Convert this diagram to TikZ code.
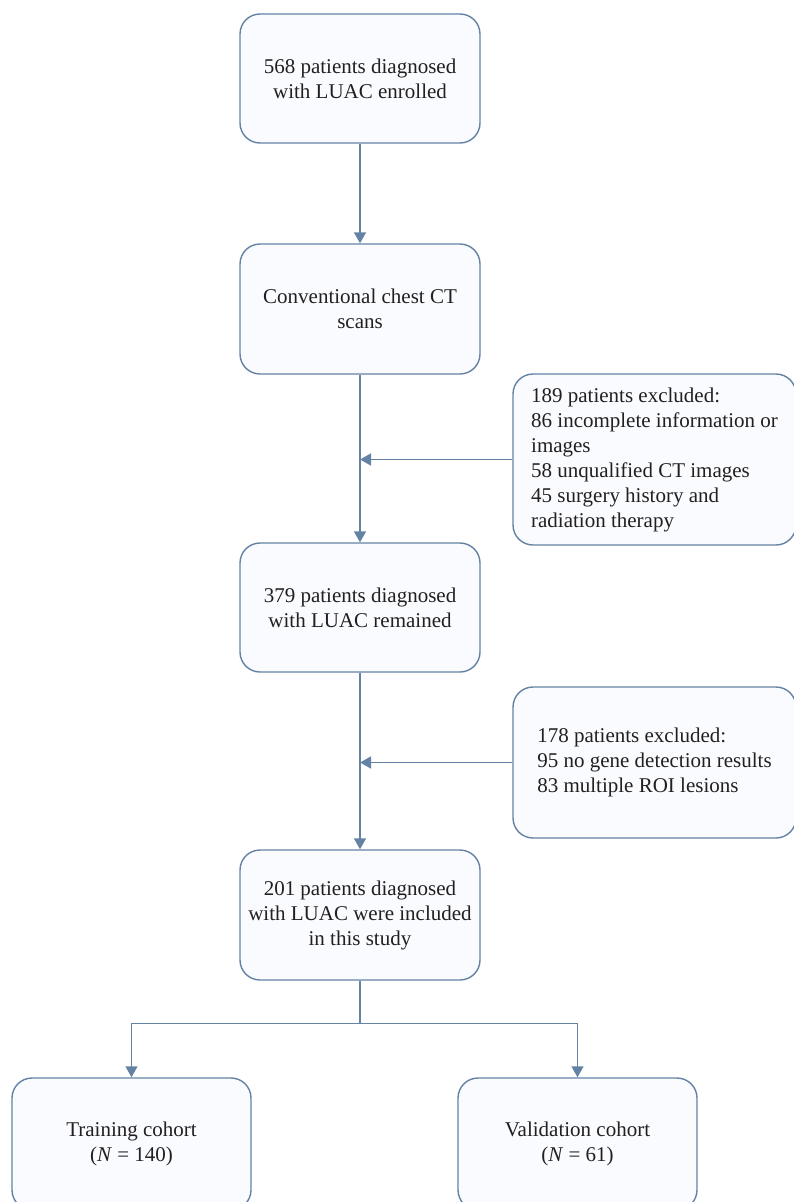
\documentclass[tikz,border=0pt]{standalone}
\usepackage{fontspec}
\setmainfont{Liberation Serif}
\usepackage{tikz}
\usetikzlibrary{arrows.meta, calc, positioning}
\definecolor{flowline}{RGB}{100,130,164}
\definecolor{flowfill}{RGB}{249,251,254}
\definecolor{flowtext}{RGB}{35,31,32}

\begin{document}
\begin{tikzpicture}[
  x=1pt, y=1pt,
  stage/.style={rectangle, rounded corners=20pt, draw=flowline, fill=flowfill, line width=1.4pt, minimum width=240pt, minimum height=129pt, align=center, text=flowtext, font=\fontsize{21}{25}\selectfont},
  exclude/.style={rectangle, rounded corners=20pt, draw=flowline, fill=flowfill, line width=1.4pt, minimum width=283pt, align=left, text=flowtext, font=\fontsize{21}{25}\selectfont},
  cohort/.style={stage, minimum width=239pt, minimum height=132pt},
  arrow/.style={-{Triangle[length=11pt, width=12pt]}, draw=flowline, line width=1.4pt},
  link/.style={draw=flowline, line width=1.4pt}
]
\useasboundingbox (0,0) rectangle (794,-1202);

% --- Hauptpfad ---
\node[stage] (enrolled) at (360,-78.5) {568 patients diagnosed\\with LUAC enrolled};
\node[stage, minimum height=130pt] (ctscan) at (360,-309) {Conventional chest CT\\scans};
\node[stage] (remained) at (360,-607.5) {379 patients diagnosed\\with LUAC remained};
\node[stage, minimum height=130pt] (included) at (360,-915) {201 patients diagnosed\\with LUAC were included\\in this study};

% --- Ausschluesse rechts ---
\node[exclude, minimum height=171pt] (exclA) at (654.5,-459.5) {189 patients excluded:\\86 incomplete information or\\images\\58 unqualified CT images\\45 surgery history and\\radiation therapy};
\node[exclude, minimum height=151pt] (exclB) at (654.5,-762.5) {178 patients excluded:\\95 no gene detection results\\83 multiple ROI lesions};

% --- Kohorten unten ---
\node[cohort] (training) at (131.5,-1144) {Training cohort\\(\textit{N} = 140)};
\node[cohort] (validation) at (577.5,-1144) {Validation cohort\\(\textit{N} = 61)};

\coordinate (joinA) at (exclA.west -| ctscan.south);
\coordinate (joinB) at (exclB.west -| remained.south);
\coordinate (split) at ($(included.south) + (0,-43)$);

% Verbindungen
\draw[arrow] (enrolled.south) -- (ctscan.north);
\draw[arrow] (ctscan.south) -- (remained.north);
\draw[arrow] (exclA.west) -- (joinA);
\draw[arrow] (remained.south) -- (included.north);
\draw[arrow] (exclB.west) -- (joinB);
\draw[link] (included.south) -- (split);
\draw[arrow] (split) -| (training.north);
\draw[arrow] (split) -| (validation.north);
\end{tikzpicture}
\end{document}
